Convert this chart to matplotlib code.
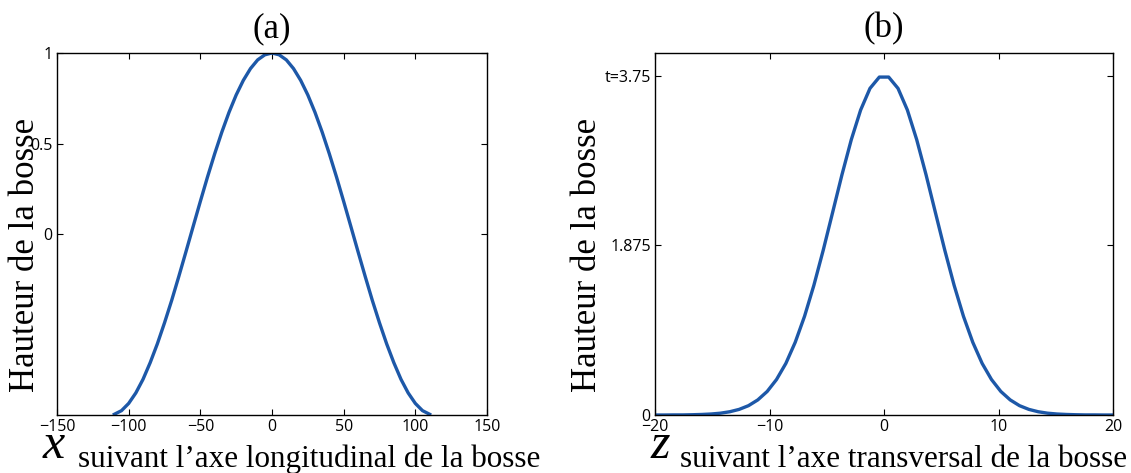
import numpy as np
import matplotlib
matplotlib.use("Agg")
import matplotlib.pyplot as plt

# (a) profil longitudinal de la bosse
x_long = [-110, -105, -100, -95, -90, -85, -80, -75, -70, -65, -60, -55,
          -50, -45, -40, -35, -30, -25, -20, -15, -10, -5, 0,
          5, 10, 15, 20, 25, 30, 35, 40, 45, 50, 55,
          60, 65, 70, 75, 80, 85, 90, 95, 100, 105, 110]
h_long = [-0.996, -0.976, -0.936, -0.878, -0.803, -0.711, -0.607, -0.491,
          -0.367, -0.234, -0.097, 0.042, 0.180, 0.315, 0.443, 0.563,
          0.672, 0.768, 0.849, 0.914, 0.962, 0.990, 1.000,
          0.990, 0.962, 0.914, 0.849, 0.768, 0.672, 0.563, 0.443, 0.315,
          0.180, 0.042, -0.097, -0.234, -0.367, -0.491, -0.607, -0.711,
          -0.803, -0.878, -0.936, -0.976, -0.996]

# (b) profil transversal (50 points sur [-20, 20])
z_trans = np.linspace(-20, 20, 50)
h_trans = [0.000, 0.000, 0.001, 0.001, 0.003, 0.006, 0.011, 0.020, 0.036,
           0.062, 0.103, 0.167, 0.260, 0.392, 0.570, 0.803, 1.091, 1.434,
           1.822, 2.237, 2.654, 3.042, 3.370, 3.609, 3.734,
           3.734, 3.609, 3.370, 3.042, 2.654, 2.237, 1.822, 1.434, 1.091,
           0.803, 0.570, 0.392, 0.260, 0.167, 0.103, 0.062, 0.036, 0.020,
           0.011, 0.006, 0.003, 0.001, 0.001, 0.000, 0.000]

xticks_a = [-150, -100, -50, 0, 50, 100, 150]
yticks_a = [0, 0.5, 1]
yticklabels_a = ['0', '0.5', '1']
xticks_b = [-20, -10, 0, 10, 20]
yticks_b = [0, 1.875, 3.75]
yticklabels_b = ['0', '1.875', 't=3.75']

W, H = 1131, 473
blue = '#1d58a8'
serif = ['Liberation Serif', 'DejaVu Serif']
plt.rcParams['font.family'] = ['Open Sans', 'DejaVu Sans']

fig = plt.figure(figsize=(W / 100, H / 100), dpi=100)


def px_axes(x0, x1, y0, y1):
    return fig.add_axes([x0 / W, 1 - y1 / H, (x1 - x0) / W, (y1 - y0) / H])


def style(ax):
    for s in ax.spines.values():
        s.set_linewidth(1.0)
    ax.tick_params(direction='in', length=4, width=0.8, top=True, right=True,
                   labelsize=11.5, pad=3)


ax1 = px_axes(57, 487, 53, 415)
ax1.plot(x_long, h_long, color=blue, lw=2.4)
ax1.set_xlim(-150, 150)
ax1.set_ylim(-1, 1)
ax1.set_xticks(xticks_a)
ax1.set_yticks(yticks_a)
ax1.set_yticklabels(yticklabels_a)
style(ax1)
ax1.set_title('(a)', family=serif, fontsize=25, pad=11)

ax2 = px_axes(655, 1113, 53, 415)
ax2.plot(z_trans, h_trans, color=blue, lw=2.4)
ax2.set_xlim(-20, 20)
ax2.set_ylim(0, 4)
ax2.set_xticks(xticks_b)
ax2.set_yticks(yticks_b)
ax2.set_yticklabels(yticklabels_b)
style(ax2)
ax2.set_title('(b)', family=serif, fontsize=25, pad=11)

# labels des axes (serif, comme l'original)
fig.text(26 / W, 1 - 255 / H, 'Hauteur de la bosse', rotation=90,
         ha='center', va='center', family=serif, fontsize=25)
fig.text(587 / W, 1 - 255 / H, 'Hauteur de la bosse', rotation=90,
         ha='center', va='center', family=serif, fontsize=25)

fig.text(43 / W, 1 - 458 / H, 'x', family=serif, style='italic',
         fontsize=36, ha='left', va='baseline')
fig.text(78 / W, 1 - 467 / H, 'suivant l\u2019axe longitudinal de la bosse',
         family=serif, fontsize=22.4, ha='left', va='baseline')
fig.text(651 / W, 1 - 458 / H, 'z', family=serif, style='italic',
         fontsize=36, ha='left', va='baseline')
fig.text(680 / W, 1 - 467 / H, 'suivant l\u2019axe transversal de la bosse',
         family=serif, fontsize=22.4, ha='left', va='baseline')

fig.savefig('out.png', dpi=100)
